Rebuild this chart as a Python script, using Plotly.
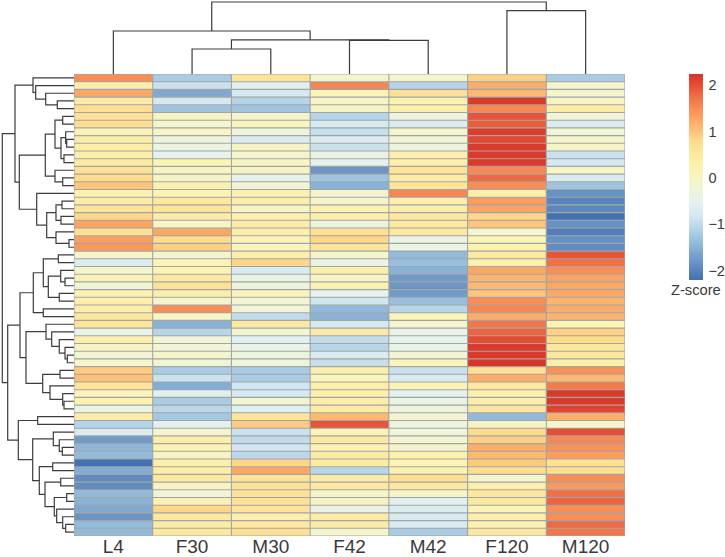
import plotly.graph_objects as go

samples = ["L4", "F30", "M30", "F42", "M42", "F120", "M120"]

L4 = [1.5,0.3,1.25,0.4,0.7,0.65,0.75,0.1,0.35,0.35,0.35,0.4,0.7,0.8,1.0,0.2,0.35,0.6,0.85,1.3,0.7,1.35,1.4,-0.05,-0.7,-0.1,0.2,-0.2,0.25,0.3,0.35,0.5,0.6,-0.4,0.3,0.0,-0.2,-0.1,0.95,1.05,0.6,0.1,0.2,-0.35,0.35,-1.1,-0.7,-1.75,-1.45,-1.4,-2.2,-1.55,-1.9,-1.9,-1.4,-1.5,-1.6,-1.8,-1.4,-1.4]
F30 = [-1.2,-0.9,-1.6,-0.8,-1.3,0.0,-0.1,-0.05,-0.3,-0.35,-0.5,0.15,0.0,0.0,0.2,0.15,0.5,0.6,0.4,-0.05,1.25,0.8,0.9,-0.15,0.15,0.15,0.5,0.65,0.3,-0.1,1.5,0.0,-1.5,-1.1,-0.2,-0.2,-0.1,-0.2,-1.2,-0.9,-1.55,-0.6,-1.2,-1.05,-1.25,-0.55,-0.1,0.35,0.2,0.0,0.3,0.35,0.5,0.0,-0.2,0.2,0.85,0.5,0.4,0.5]
M30 = [0.6,-0.6,-0.8,-1.1,-1.3,-0.1,0.1,-0.3,-0.7,0.0,-0.1,0.0,0.0,-0.45,-0.2,0.2,0.35,-0.05,0.3,0.4,0.35,0.1,0.05,0.3,0.85,-0.75,-0.4,-0.3,0.1,-0.2,-0.2,-1.0,0.5,-0.15,-0.6,-0.4,-0.3,-0.25,-1.2,-1.2,-0.85,-0.8,-0.15,-0.6,0.6,0.95,-0.9,-1.0,-0.85,-1.05,0.85,1.25,0.6,0.65,0.65,0.7,0.6,0.3,0.5,0.7]
F42 = [-0.1,1.55,0.15,-0.05,0.0,-1.1,-0.8,-0.95,-0.7,-0.9,-0.4,-0.5,-1.8,-1.3,-1.5,-0.1,-0.1,0.2,0.3,-0.3,0.7,0.85,0.6,-0.1,-0.4,0.3,-0.05,0.2,-0.5,-0.85,-1.4,-1.5,-0.8,0.4,-1.0,-1.1,-0.7,-0.95,0.3,0.1,0.3,0.3,0.35,0.45,1.1,1.95,0.1,0.5,0.2,0.4,0.45,-1.1,0.4,0.5,-0.05,0.0,-0.4,0.45,0.4,-0.1]
M42 = [-0.1,-1.1,0.7,0.2,0.3,-0.3,-0.7,-0.1,-0.2,-0.3,0.3,0.3,0.6,0.4,0.6,1.55,0.3,0.3,0.5,0.5,0.5,-0.4,-0.4,-1.4,-1.35,-1.5,-1.75,-1.8,-1.75,-1.35,-1.1,0.1,-0.1,-0.4,-0.45,-0.4,-0.2,0.1,-0.9,-0.75,0.15,-0.55,-0.35,-0.3,-0.15,-0.3,-0.25,-0.15,-0.1,0.25,0.15,0.2,0.75,0.5,-0.05,-0.6,-0.7,-0.75,-0.75,-1.2]
F120 = [0.9,1.2,1.1,2.2,1.55,1.95,1.9,2.15,2.05,2.2,2.2,2.2,1.55,1.8,1.5,0.3,1.35,1.3,0.85,1.0,-0.1,0.15,0.25,0.5,0.25,1.25,1.15,1.1,1.0,1.5,1.55,1.2,1.7,1.85,2.0,2.2,2.2,2.24,0.7,1.2,0.5,0.3,0.3,0.55,-1.4,0.0,0.8,0.9,1.2,1.1,0.95,0.75,-0.1,0.3,0.55,0.5,0.15,0.3,0.2,0.5]
M120 = [-1.2,-0.1,-0.1,-0.05,0.4,-0.2,-0.7,-0.2,-0.1,-0.05,-0.9,-0.8,-0.05,-0.7,-1.3,-1.85,-2.0,-1.95,-2.2,-1.85,-2.05,-1.85,-1.9,1.95,1.75,1.5,1.3,1.25,1.25,1.15,1.2,1.15,0.15,0.9,0.8,0.55,0.55,0.3,1.45,1.1,1.65,2.2,2.2,2.1,1.2,-0.05,2.0,1.55,1.45,1.35,0.65,0.7,1.5,1.4,1.75,1.85,1.5,1.5,1.8,1.7]

# Trees: (merge height, upper child, lower child); integers are leaves.
column_tree = (72, (43, 0, (34.2, (25, 1, 2), (33.6, 3, 4))), (63.3, 5, 6))

row_tree = (71.7,
    (59,
        (41, 0, (38.3, 1, (28.3, 2, (16.7, 3, 4)))),
        (54.7,
            (28.7,
                (19, (11.3, 5, 6), (13, (8.3, 7, (7.3, 8, 9)), (10, 10, 11))),
                (19, 12, (11.3, 13, 14))),
            (37.3, 15,
                (27.3,
                    (18, (12, 16, 17), (13, 18, 19)),
                    (18, 20, (5, 21, 22)))))),
    (66.3,
        (54,
            (40.7,
                (30.7,
                    (15.7, 23, 24),
                    (25.7, (13.3, 25, (9, 26, 27)), (14.7, 28, 29))),
                (30.7, 30, 31)),
            (48,
                (28, 32, (22.3, 33, (14.7, 34, (9, 35, (6.7, 36, 37))))),
                (31.3, (14, 38, 39), (24, 40, (11.3, 41, (10, 42, 43)))))),
        (55.7,
            (36.3, 44, 45),
            (41.3,
                (20.7, 46, (14.7, 47, (11.7, 48, 49))),
                (34.7,
                    (21.3, 50, 51),
                    (29,
                        (13.3, 52, 53),
                        (19.7, (7.3, 54, 55), (17.3, 56, (11.3, 57, (8.3, 58, 59))))))))))

scale_values = [-2.2,-1.8,-1.4,-1.1,-0.8,-0.5,-0.2,0.15,0.5,0.8,1.0,1.25,1.5,1.8,2.0,2.24]
scale_colors = ["#4372b3","#6b95c5","#92bbdb","#b5d5e8","#d5e9f1","#e5f2ee","#f1f5d5","#fbf4b5",
                "#fde8a0","#fddc8c","#fdc47a","#fba865","#f88d55","#ee6a45","#e54d33","#d8352a"]
colorbar_ticks = [-2, -1, 0, 1, 2]

W, H = 725, 557
LEFT, RIGHT, TOP, BOTTOM = 74, 625, 74, 536
GRID = "#a4a4a4"
INK = "#3a3a3a"
TREE = "#3c3c3c"

z = [list(row) for row in zip(L4, F30, M30, F42, M42, F120, M120)]
n_rows, n_cols = len(z), len(samples)
zmin, zmax = scale_values[0], scale_values[-1]
colorscale = [[(v - zmin) / (zmax - zmin), c] for v, c in zip(scale_values, scale_colors)]


def tree_segments(node):
    """Return (position, height, heights, positions) of a merge tree as elbow paths."""
    if isinstance(node, int):
        return node, 0, [], []
    h, a, b = node
    pa, ha, hs_a, ps_a = tree_segments(a)
    pb, hb, hs_b, ps_b = tree_segments(b)
    hs = hs_a + hs_b + [ha, h, h, hb, None]
    ps = ps_a + ps_b + [pa, pa, pb, pb, None]
    return (pa + pb) / 2, h, hs, ps


_, _, col_h, col_p = tree_segments(column_tree)
_, _, row_h, row_p = tree_segments(row_tree)

# cell borders, one line between each pair of rows / columns
grid_x, grid_y = [], []
for i in range(n_rows + 1):
    grid_x += [-0.5, n_cols - 0.5, None]
    grid_y += [i - 0.5, i - 0.5, None]
for j in range(n_cols + 1):
    grid_x += [j - 0.5, j - 0.5, None]
    grid_y += [-0.5, n_rows - 0.5, None]

fig = go.Figure()
fig.add_trace(go.Heatmap(
    z=z, x=samples, y=list(range(n_rows)),
    coloraxis="coloraxis", hoverongaps=False, xaxis="x", yaxis="y",
))
fig.add_trace(go.Scatter(x=grid_x, y=grid_y, mode="lines", xaxis="x2", yaxis="y3", cliponaxis=False,
                         line=dict(color=GRID, width=1.1), showlegend=False, hoverinfo="skip"))
fig.add_trace(go.Scatter(x=col_p, y=col_h, mode="lines", xaxis="x2", yaxis="y2",
                         line=dict(color=TREE, width=1.2), showlegend=False, hoverinfo="skip"))
fig.add_trace(go.Scatter(x=row_h, y=row_p, mode="lines", xaxis="x3", yaxis="y3",
                         line=dict(color=TREE, width=1.2), showlegend=False, hoverinfo="skip"))

dx = [LEFT / W, RIGHT / W]
dy = [1 - BOTTOM / H, 1 - TOP / H]
hidden = dict(visible=False, showgrid=False, zeroline=False)

fig.update_layout(
    width=W, height=H, margin=dict(l=0, r=0, t=0, b=0, autoexpand=False),
    paper_bgcolor="white", plot_bgcolor="rgba(0,0,0,0)",
    font=dict(family="Liberation Sans, Arial, sans-serif", color=INK),
    showlegend=False,
    xaxis=dict(domain=dx, range=[-0.5, n_cols - 0.5], type="category", showgrid=False, zeroline=False,
               ticks="", tickfont=dict(size=19, color=INK), automargin=False, ticklabelstandoff=-3),
    yaxis=dict(domain=dy, range=[n_rows - 0.5, -0.5], showticklabels=False, ticks="",
               showgrid=False, zeroline=False),
    xaxis2=dict(domain=dx, range=[-0.5, n_cols - 0.5], anchor="y2", **hidden),
    yaxis2=dict(domain=[1 - TOP / H, 1], range=[0, TOP], anchor="x2", **hidden),
    xaxis3=dict(domain=[0, LEFT / W], range=[LEFT, 0], anchor="y3", **hidden),
    yaxis3=dict(domain=dy, range=[n_rows - 0.5, -0.5], anchor="x3", **hidden),
    coloraxis=dict(
        cmin=zmin, cmax=zmax, colorscale=colorscale,
        colorbar=dict(
            x=689 / W, xanchor="left", y=1 - TOP / H, yanchor="top",
            lenmode="pixels", len=206, thicknessmode="pixels", thickness=14,
            outlinewidth=0, borderwidth=0, xpad=0, ypad=0,
            tickmode="array", tickvals=colorbar_ticks,
            ticks="outside", ticklen=3, tickcolor="rgba(0,0,0,0)",
            tickfont=dict(size=14.5, color=INK),
        ),
    ),
    annotations=[dict(text="Z-score", x=696 / W, y=1 - 290 / H, xref="paper", yref="paper",
                      xanchor="center", yanchor="middle", showarrow=False,
                      font=dict(size=14.7, color=INK))],
)

fig.write_html("out.html", config=dict(displayModeBar=False),
               post_script="document.body.style.margin='0';document.documentElement.style.overflow='hidden';")
